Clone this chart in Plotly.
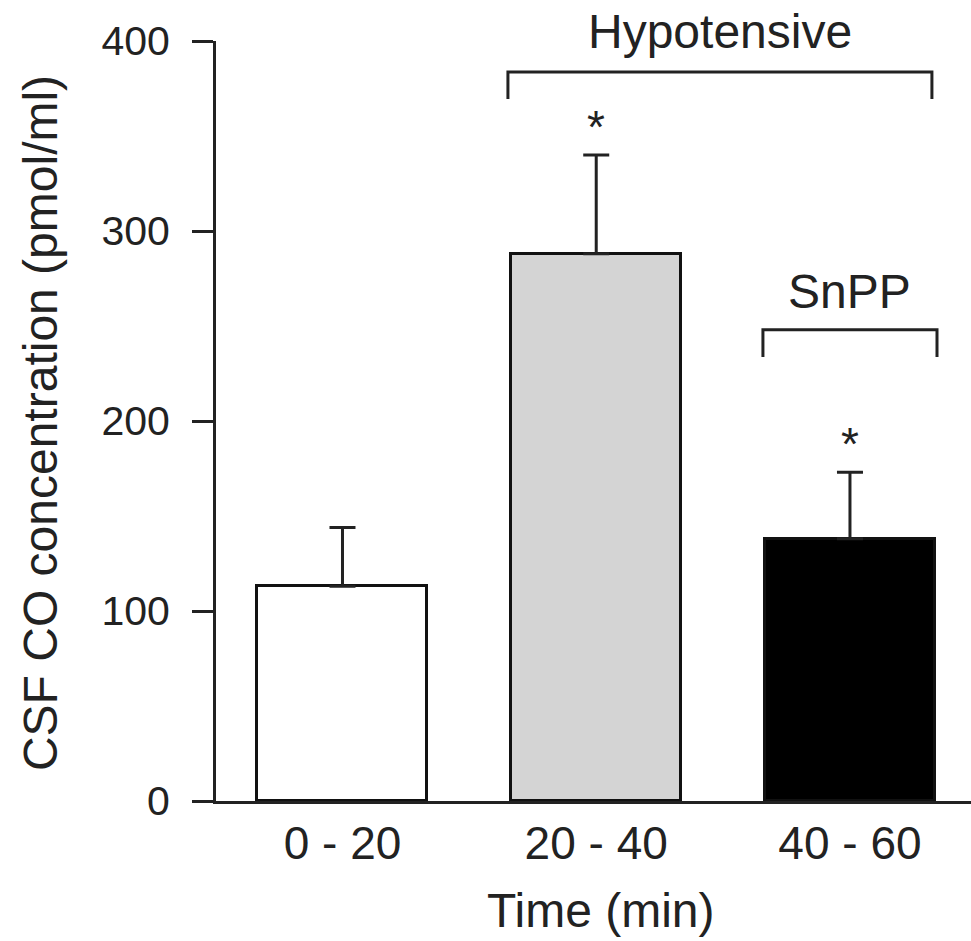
import plotly.graph_objects as go

# ---- data ----
categories = ["0 - 20", "20 - 40", "40 - 60"]
means = [113, 288, 138]
errors = [31, 52, 35]
bar_colors = ["#ffffff", "#d4d4d4", "#000000"]
significant = [False, True, True]
y_ticks = [0, 100, 200, 300, 400]

FONT = "Liberation Sans, Arial, sans-serif"
INK = "#222222"

x_pos = list(range(len(categories)))

fig = go.Figure()
fig.add_trace(go.Bar(
    x=x_pos, y=means, width=0.67,
    marker=dict(color=bar_colors, line=dict(color="#111111", width=3)),
    error_y=dict(type="data", array=errors, arrayminus=[0] * len(errors),
                 symmetric=False, color=INK, thickness=3, width=13),
    showlegend=False,
))

annotations = []
# significance stars
for i, (m, e, s) in enumerate(zip(means, errors, significant)):
    if s:
        annotations.append(dict(x=i, y=m + e, xref="x", yref="y", text="*",
                                showarrow=False, yanchor="bottom",
                                font=dict(family=FONT, size=46, color=INK)))

shapes = []
def bracket(x0, x1, y_top, y_leg):
    shapes.append(dict(type="path", xref="x", yref="y",
                       path=f"M {x0},{y_leg} L {x0},{y_top} L {x1},{y_top} L {x1},{y_leg}",
                       line=dict(color=INK, width=3)))

# Hypotensive bracket over bars 2-3, SnPP bracket over bar 3
bracket(1 - 0.348, 2 + 0.323, 383.7, 369.5)
bracket(2 - 0.343, 2 + 0.343, 248, 233.7)
annotations.append(dict(x=(1 - 0.348 + 2 + 0.323) / 2, y=390, xref="x", yref="y",
                        text="Hypotensive", showarrow=False, yanchor="bottom",
                        font=dict(family=FONT, size=48, color=INK)))
annotations.append(dict(x=2, y=253, xref="x", yref="y", text="SnPP",
                        showarrow=False, yanchor="bottom",
                        font=dict(family=FONT, size=48, color=INK)))

# axis titles
annotations.append(dict(x=-0.233, y=0.5 - (423 - 421) / 760, xref="paper", yref="paper",
                        text="CSF CO concentration (pmol/ml)", textangle=-90,
                        showarrow=False, xanchor="center", yanchor="middle",
                        font=dict(family=FONT, size=48, color=INK)))
annotations.append(dict(x=(601 - 216) / 755, y=-(910 - 801) / 760, xref="paper", yref="paper",
                        text="Time (min)", showarrow=False, xanchor="center", yanchor="middle",
                        font=dict(family=FONT, size=48, color=INK)))

fig.update_layout(
    width=971, height=941,
    margin=dict(l=216, r=0, t=41, b=140),
    paper_bgcolor="white", plot_bgcolor="white",
    shapes=shapes, annotations=annotations,
    bargap=0,
    xaxis=dict(range=[-0.4985, 2.477], tickvals=x_pos, ticktext=categories,
               showline=True, linecolor=INK, linewidth=3, ticks="",
               showgrid=False, zeroline=False,
               tickfont=dict(family=FONT, size=46, color=INK),
               ticklabelstandoff=0),
    yaxis=dict(range=[0, 400], tickvals=y_ticks,
               showline=True, linecolor=INK, linewidth=3,
               ticks="outside", ticklen=21, tickwidth=3, tickcolor=INK,
               showgrid=False, zeroline=False,
               tickfont=dict(family=FONT, size=41, color=INK),
               ticklabelstandoff=14),
)

fig.write_html("out.html")
